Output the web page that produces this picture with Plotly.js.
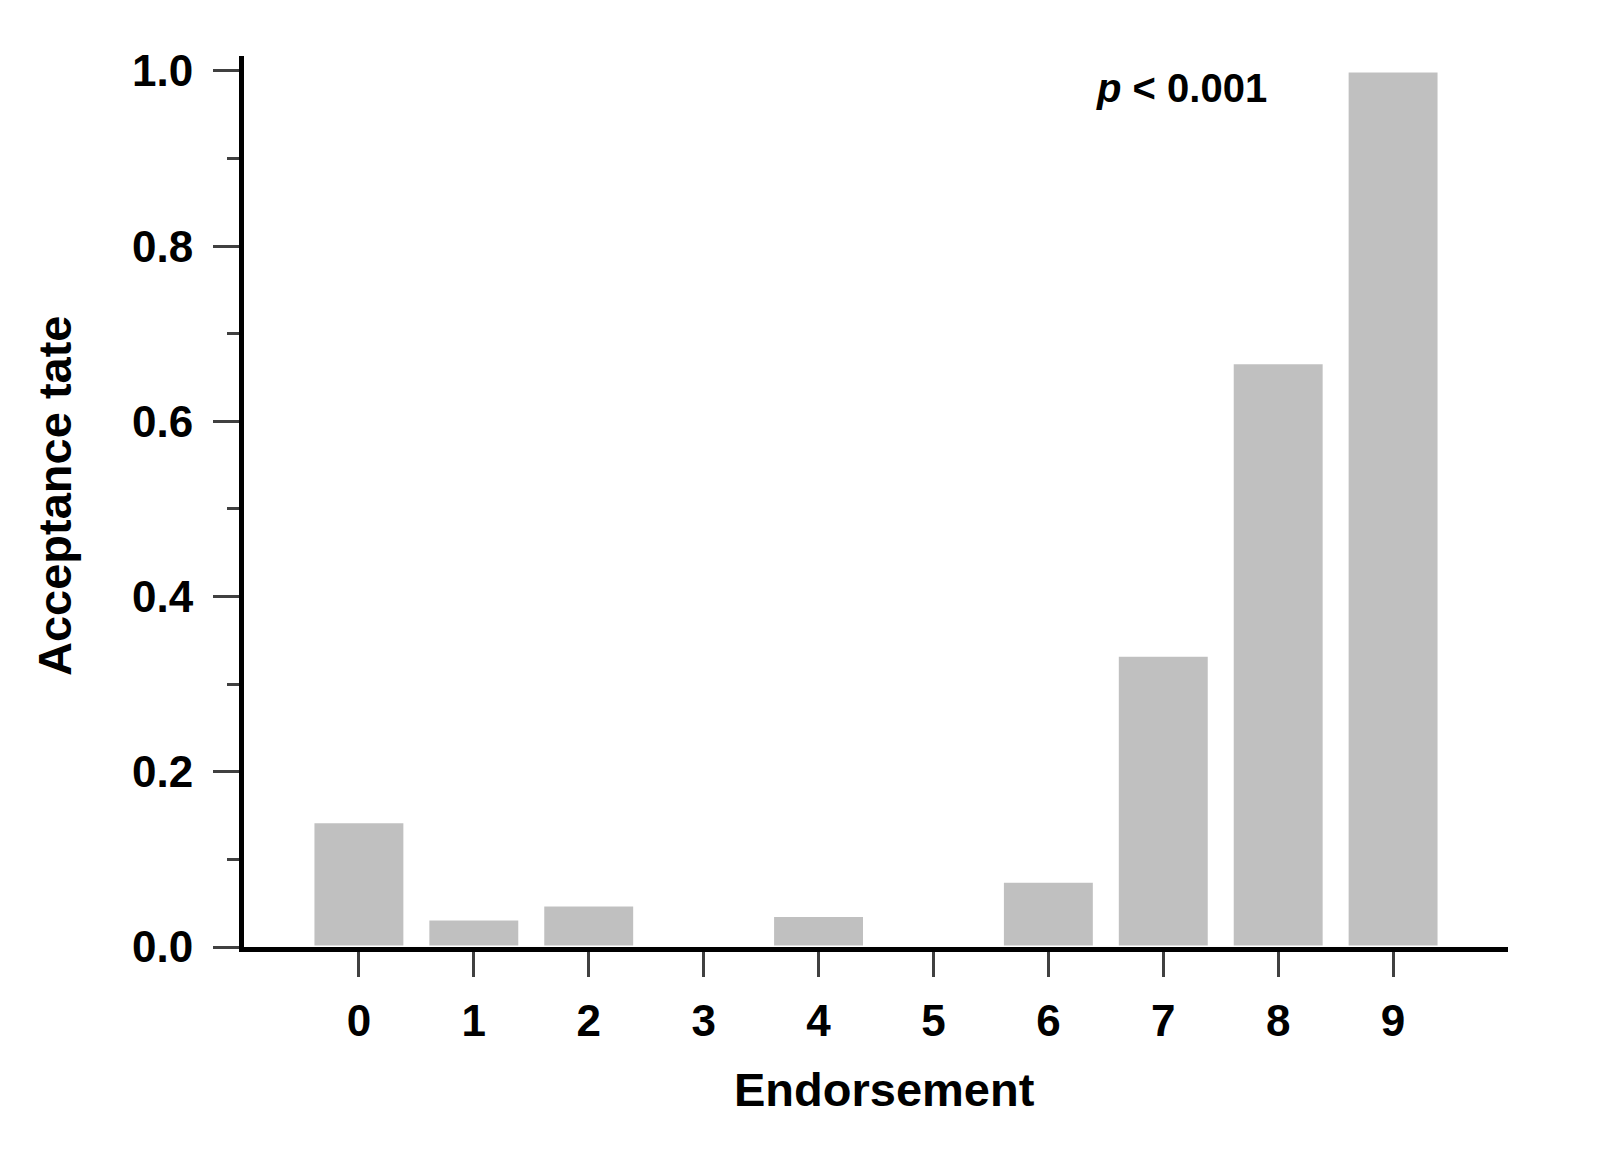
<!DOCTYPE html>
<html>
<head>
<meta charset="utf-8">
<script src="https://cdn.plot.ly/plotly-3.0.1.min.js"></script>
<style>html,body{margin:0;padding:0;background:#fff;}#chart{width:1600px;height:1149px;}</style>
</head>
<body>
<div id="chart"></div>
<script>
const endorsement = [0, 1, 2, 3, 4, 5, 6, 7, 8, 9];
const acceptanceRate = [0.143, 0.032, 0.048, 0, 0.036, 0, 0.075, 0.333, 0.667, 1.0];
const yTickVals = [0, 0.2, 0.4, 0.6, 0.8, 1.0];
const yTickText = ['0.0', '0.2', '0.4', '0.6', '0.8', '1.0'];
const xTitle = 'Endorsement';
const yTitle = 'Acceptance tate';
const pText = '<i>p</i> < 0.001';

const FONT = 'Liberation Sans, Arial, sans-serif';

const trace = {
  type: 'bar',
  x: endorsement,
  y: acceptanceRate,
  width: 0.8,
  marker: {color: '#C0C0C0', line: {color: '#FFFFFF', width: 3}},
  hoverinfo: 'x+y'
};

const layout = {
  width: 1600,
  height: 1149,
  paper_bgcolor: '#FFFFFF',
  plot_bgcolor: '#FFFFFF',
  margin: {l: 244, r: 92, t: 56, b: 202},
  showlegend: false,
  font: {family: FONT, color: '#000000'},
  xaxis: {
    range: [-1, 10],
    tickmode: 'array',
    tickvals: endorsement,
    ticktext: endorsement.map(String),
    showgrid: false,
    zeroline: false,
    showline: true,
    linecolor: '#000000',
    linewidth: 5,
    layer: 'below traces',
    ticks: 'outside',
    ticklen: 25,
    tickwidth: 3,
    tickcolor: '#404040',
    tickfont: {family: FONT, size: 44, weight: 'bold', color: '#000000'},
    ticklabelstandoff: 6,
    fixedrange: true
  },
  yaxis: {
    range: [0, 1.017],
    tickmode: 'array',
    tickvals: yTickVals,
    ticktext: yTickText,
    showgrid: false,
    zeroline: false,
    showline: true,
    linecolor: '#000000',
    linewidth: 5,
    layer: 'below traces',
    ticks: 'outside',
    ticklen: 26,
    tickwidth: 3,
    tickcolor: '#404040',
    minor: {dtick: 0.1, tick0: 0.1, ticks: 'outside', ticklen: 12, tickwidth: 3, tickcolor: '#404040', showgrid: false},
    tickfont: {family: FONT, size: 44, weight: 'bold', color: '#000000'},
    ticklabelstandoff: 11,
    fixedrange: true
  },
  annotations: [
    {
      text: xTitle, xref: 'paper', yref: 'paper', x: (884 - 244) / 1264, y: (947 - 1089) / 891,
      xanchor: 'center', yanchor: 'middle', showarrow: false,
      font: {family: FONT, size: 47, weight: 'bold', color: '#000000'}
    },
    {
      text: yTitle, xref: 'paper', yref: 'paper', x: (54 - 244) / 1264, y: (947 - 496) / 891,
      xanchor: 'center', yanchor: 'middle', showarrow: false, textangle: -90,
      font: {family: FONT, size: 47, weight: 'bold', color: '#000000'}
    },
    {
      text: pText, xref: 'paper', yref: 'paper', x: (1181 - 244) / 1264, y: (947 - 88) / 891,
      xanchor: 'center', yanchor: 'middle', showarrow: false,
      font: {family: FONT, size: 40, weight: 'bold', color: '#000000'}
    }
  ]
};

Plotly.newPlot('chart', [trace], layout, {displayModeBar: false, staticPlot: true});
</script>
</body>
</html>
